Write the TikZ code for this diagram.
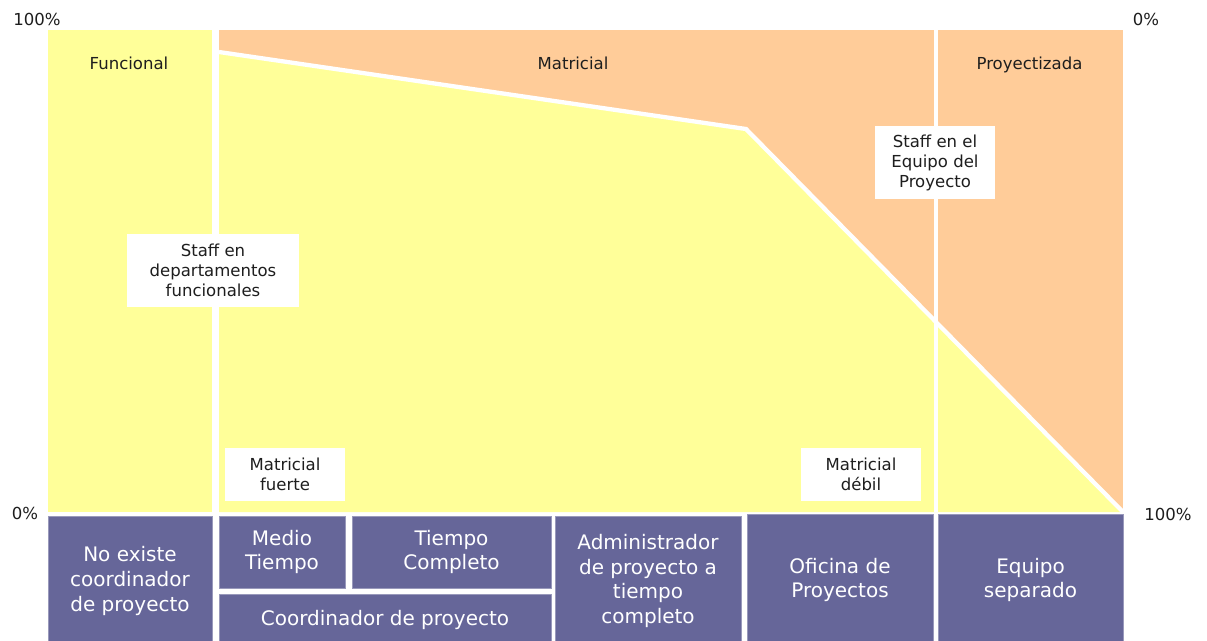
\documentclass[tikz,border=0pt]{standalone}
\usepackage{fontspec}
\setmainfont{DejaVu Sans}
\definecolor{yel}{HTML}{FFFF99}
\definecolor{pch}{HTML}{FFCC99}
\definecolor{pur}{HTML}{666699}
\definecolor{purline}{HTML}{9999BB}
\definecolor{txt}{HTML}{1E1E1E}
\begin{document}
\begin{tikzpicture}[x=0.75pt,y=-0.75pt,
  small/.style={font=\fontsize{12.4}{15}\selectfont, text=txt},
  title/.style={small, anchor=base, inner sep=0pt},
  wlabel/.style={small, fill=white, align=center, inner sep=0pt},
  pbox/.style={fill=pur, draw=purline, line width=0.6pt, text=white,
    font=\fontsize{15}{18.4}\selectfont, align=center, inner sep=0pt},
  sep/.style={draw=white, line width=3.2pt, line join=miter}]
\useasboundingbox[fill=white] (0,0) rectangle (1207,640);
% chart areas
\fill[yel] (48,30) rectangle (212,512);
\fill[pch] (219,30) rectangle (1123,512);
\fill[yel] (219,52) -- (746,129) -- (1123,512) -- (219,512) -- cycle;
\coordinate (c1) at (219,52);
\coordinate (c2) at (746,129);
\coordinate (c3) at (1123,512);
\draw[sep] (c1) -- (c2) -- (c3);
\coordinate (v1) at (936,30);
\coordinate (v2) at (936,512);
\draw[sep] (v1) -- (v2);
% titles
\node[title] (tf) at (129,69) {Funcional};
\node[title] (tm) at (573,69) {Matricial};
\node[title] (tp) at (1029.5,69) {Proyectizada};
% percentages
\node[title] (p1) at (37,25) {100\%};
\node[title] (p2) at (1146,25) {0\%};
\node[title] (p3) at (25,519) {0\%};
\node[title] (p4) at (1168,520) {100\%};
% white labels
\node[wlabel, minimum width=129pt, minimum height=54.75pt] (sdf) at (213,270.5) {Staff en\\departamentos\\funcionales};
\node[wlabel, minimum width=90pt, minimum height=54.75pt] (sep) at (935,162.5) {Staff en el\\Equipo del\\Proyecto};
\node[wlabel, minimum width=90pt, minimum height=39.75pt] (mf) at (285,474.5) {Matricial\\fuerte};
\node[wlabel, minimum width=90pt, minimum height=39.75pt] (md) at (861,474.5) {Matricial\\débil};
% bottom boxes
\node[pbox, minimum width=123pt, minimum height=97.5pt] (b1) at (130,581) {No existe\\coordinador\\de proyecto};
\node[pbox, minimum width=94.5pt, minimum height=54pt] (b2) at (282,552) {Medio\\Tiempo};
\node[pbox, minimum width=149.25pt, minimum height=54pt] (b3) at (451.5,552) {Tiempo\\Completo};
\node[pbox, minimum width=249pt, minimum height=39pt] (b4) at (385,620) {Coordinador de proyecto};
\node[pbox, minimum width=139.5pt, minimum height=97.5pt] (b5) at (648,581) {Administrador\\de proyecto a\\tiempo\\completo};
\node[pbox, minimum width=139.5pt, minimum height=99pt] (b6) at (840,580) {Oficina de\\Proyectos};
\node[pbox, minimum width=138.75pt, minimum height=99pt] (b7) at (1030.5,580) {Equipo\\separado};
\end{tikzpicture}
\end{document}
